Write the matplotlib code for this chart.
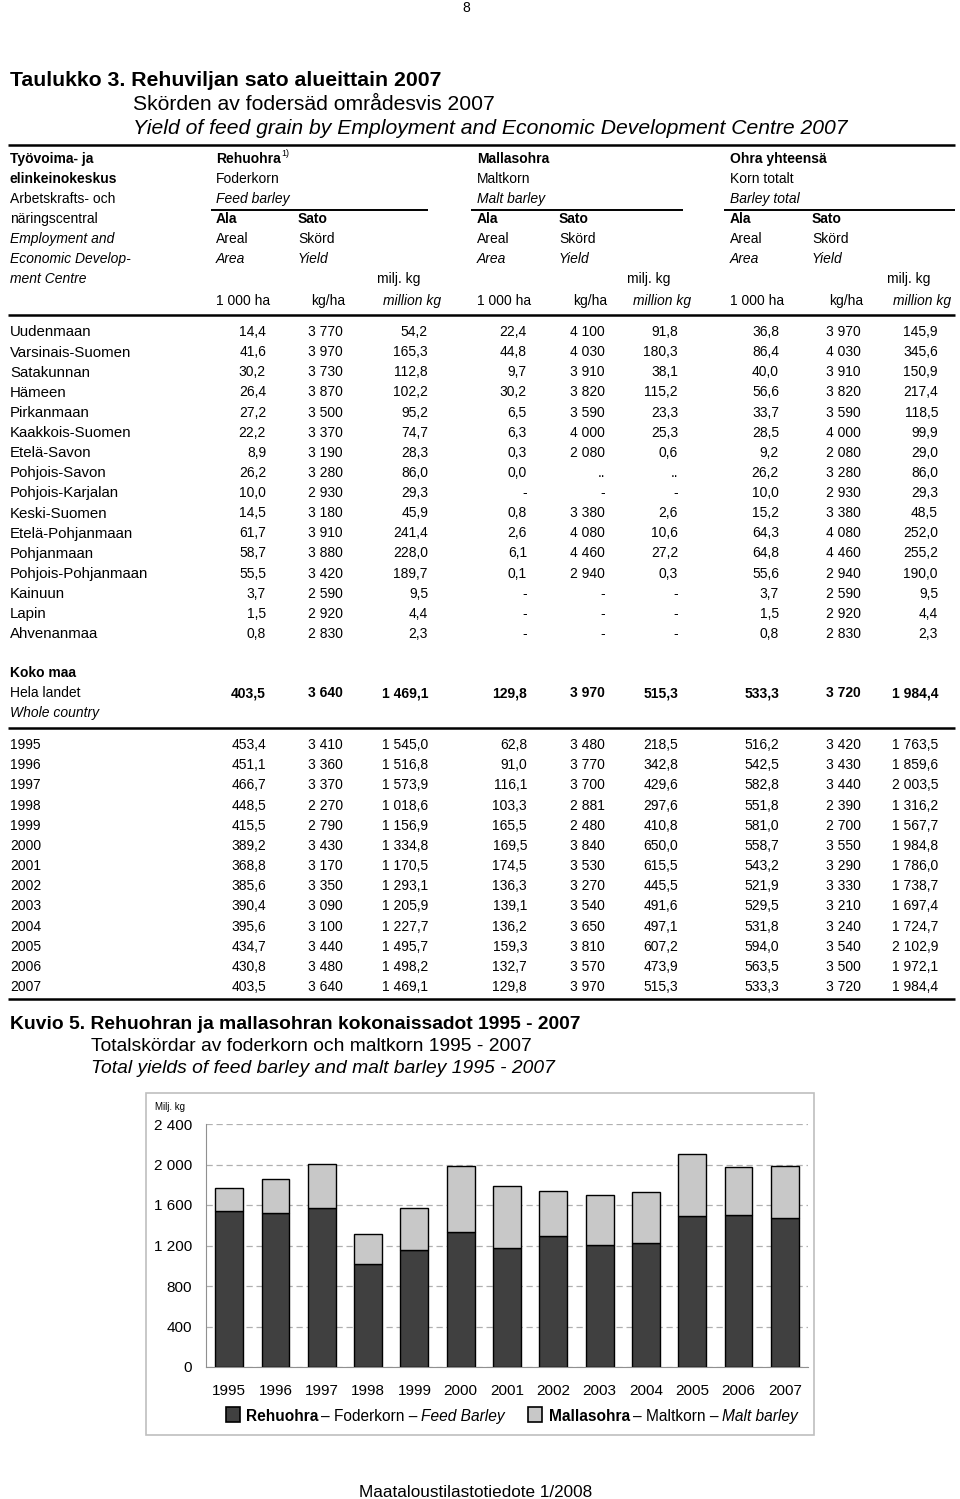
import math
import matplotlib
matplotlib.use("Agg")
import matplotlib.pyplot as plt
from matplotlib.patches import Rectangle
from matplotlib.ticker import FixedLocator, FuncFormatter

# ---------------- data ----------------
regions = ["Uudenmaan", "Varsinais-Suomen", "Satakunnan", "Hämeen", "Pirkanmaan",
           "Kaakkois-Suomen", "Etelä-Savon", "Pohjois-Savon", "Pohjois-Karjalan",
           "Keski-Suomen", "Etelä-Pohjanmaan", "Pohjanmaan", "Pohjois-Pohjanmaan",
           "Kainuun", "Lapin", "Ahvenanmaa"]
NA = float("nan")   # ".."  ;  None = "-"
feed_area = [14.4, 41.6, 30.2, 26.4, 27.2, 22.2, 8.9, 26.2, 10.0, 14.5, 61.7, 58.7, 55.5, 3.7, 1.5, 0.8]
feed_yield = [3770, 3970, 3730, 3870, 3500, 3370, 3190, 3280, 2930, 3180, 3910, 3880, 3420, 2590, 2920, 2830]
feed_mkg = [54.2, 165.3, 112.8, 102.2, 95.2, 74.7, 28.3, 86.0, 29.3, 45.9, 241.4, 228.0, 189.7, 9.5, 4.4, 2.3]
malt_area = [22.4, 44.8, 9.7, 30.2, 6.5, 6.3, 0.3, 0.0, None, 0.8, 2.6, 6.1, 0.1, None, None, None]
malt_yield = [4100, 4030, 3910, 3820, 3590, 4000, 2080, NA, None, 3380, 4080, 4460, 2940, None, None, None]
malt_mkg = [91.8, 180.3, 38.1, 115.2, 23.3, 25.3, 0.6, NA, None, 2.6, 10.6, 27.2, 0.3, None, None, None]
tot_area = [36.8, 86.4, 40.0, 56.6, 33.7, 28.5, 9.2, 26.2, 10.0, 15.2, 64.3, 64.8, 55.6, 3.7, 1.5, 0.8]
tot_yield = [3970, 4030, 3910, 3820, 3590, 4000, 2080, 3280, 2930, 3380, 4080, 4460, 2940, 2590, 2920, 2830]
tot_mkg = [145.9, 345.6, 150.9, 217.4, 118.5, 99.9, 29.0, 86.0, 29.3, 48.5, 252.0, 255.2, 190.0, 9.5, 4.4, 2.3]

whole_country = [403.5, 3640, 1469.1, 129.8, 3970, 515.3, 533.3, 3720, 1984.4]

years = [1995, 1996, 1997, 1998, 1999, 2000, 2001, 2002, 2003, 2004, 2005, 2006, 2007]
y_feed_area = [453.4, 451.1, 466.7, 448.5, 415.5, 389.2, 368.8, 385.6, 390.4, 395.6, 434.7, 430.8, 403.5]
y_feed_yield = [3410, 3360, 3370, 2270, 2790, 3430, 3170, 3350, 3090, 3100, 3440, 3480, 3640]
y_feed_mkg = [1545.0, 1516.8, 1573.9, 1018.6, 1156.9, 1334.8, 1170.5, 1293.1, 1205.9, 1227.7, 1495.7, 1498.2, 1469.1]
y_malt_area = [62.8, 91.0, 116.1, 103.3, 165.5, 169.5, 174.5, 136.3, 139.1, 136.2, 159.3, 132.7, 129.8]
y_malt_yield = [3480, 3770, 3700, 2881, 2480, 3840, 3530, 3270, 3540, 3650, 3810, 3570, 3970]
y_malt_mkg = [218.5, 342.8, 429.6, 297.6, 410.8, 650.0, 615.5, 445.5, 491.6, 497.1, 607.2, 473.9, 515.3]
y_tot_area = [516.2, 542.5, 582.8, 551.8, 581.0, 558.7, 543.2, 521.9, 529.5, 531.8, 594.0, 563.5, 533.3]
y_tot_yield = [3420, 3430, 3440, 2390, 2700, 3550, 3290, 3330, 3210, 3240, 3540, 3500, 3720]
y_tot_mkg = [1763.5, 1859.6, 2003.5, 1316.2, 1567.7, 1984.8, 1786.0, 1738.7, 1697.4, 1724.7, 2102.9, 1972.1, 1984.4]

y_ticks = [0, 400, 800, 1200, 1600, 2000, 2400]

# ---------------- helpers ----------------
SANS = ["Liberation Sans", "DejaVu Sans"]


def fmt(v, dec):
    if v is None:
        return "-"
    if isinstance(v, float) and math.isnan(v):
        return ".."
    s = f"{v:,.{dec}f}"
    return s.replace(",", " ").replace(".", ",")


W, H = 960, 1499
fig = plt.figure(figsize=(W / 100, H / 100), dpi=100)
page = fig.add_axes([0, 0, 1, 1])
page.set_xlim(0, W)
page.set_ylim(H, 0)
page.axis("off")
renderer = fig.canvas.get_renderer()


def T(x, y, s, size=10, weight="normal", style="normal", ha="left", family=SANS):
    # y is the visual centre of capital letters; draw on baseline
    off = 0.36 * size * 100 / 72
    return page.text(x, y + off, s, fontsize=size, fontweight=weight, fontstyle=style,
                     ha=ha, va="baseline", family=family, color="black")


def chain(x, y, pieces, size, gap=3):
    for s, weight, style in pieces:
        t = T(x, y, s, size=size, weight=weight, style=style)
        bb = t.get_window_extent(renderer=renderer)
        x = bb.x1 + gap


def hline(y, x0=8, x1=955, lw=1.8):
    page.plot([x0, x1], [y, y], color="black", lw=lw, solid_capstyle="butt")


# page number
T(466, 7, "8", size=10, ha="center")

# titles
T(10, 78, "Taulukko 3. Rehuviljan sato alueittain 2007", size=15.3, weight="bold")
T(133, 102, "Skörden av fodersäd områdesvis 2007", size=15.2)
T(133, 126, "Yield of feed grain by Employment and Economic Development Centre 2007", size=15.2,
  style="italic")

hline(145)

# header
hy = [158, 178, 198, 218, 238, 258, 278, 300]
T(10, hy[0], "Työvoima- ja", weight="bold")
T(10, hy[1], "elinkeinokeskus", weight="bold")
T(10, hy[2], "Arbetskrafts- och")
T(10, hy[3], "näringscentral")
T(10, hy[4], "Employment and", style="italic")
T(10, hy[5], "Economic Develop-", style="italic")
T(10, hy[6], "ment Centre", style="italic")

groups = [("Rehuohra", "Foderkorn", "Feed barley"),
          ("Mallasohra", "Maltkorn", "Malt barley"),
          ("Ohra yhteensä", "Korn totalt", "Barley total")]
gx = [216, 477, 730]          # group left x
area_r = [266, 527, 779]      # right edges of numeric columns
yield_r = [343, 605, 861]
mkg_r = [428, 678, 938]
line_span = [(211, 428), (471, 683), (724, 955)]
for g in range(3):
    x = gx[g]
    T(x, hy[0], groups[g][0], weight="bold")
    T(x, hy[1], groups[g][1])
    T(x, hy[2], groups[g][2], style="italic")
    hline(210, line_span[g][0], line_span[g][1], lw=1.4)
    T(x, hy[3], "Ala", weight="bold")
    T(x + 82, hy[3], "Sato", weight="bold")
    T(x, hy[4], "Areal")
    T(x + 82, hy[4], "Skörd")
    T(x, hy[5], "Area", style="italic")
    T(x + 82, hy[5], "Yield", style="italic")
    T(mkg_r[g] - 8, hy[6], "milj. kg", ha="right")
    T(x, hy[7], "1 000 ha")
    T(yield_r[g] + 2, hy[7], "kg/ha", ha="right")
    T(mkg_r[g] + 13, hy[7], "million kg", ha="right", style="italic")
T(281, 153, "1)", size=6.5)

hline(315)

# region rows
cols = [(feed_area, 1), (feed_yield, 0), (feed_mkg, 1),
        (malt_area, 1), (malt_yield, 0), (malt_mkg, 1),
        (tot_area, 1), (tot_yield, 0), (tot_mkg, 1)]
rights = [area_r[0], yield_r[0], mkg_r[0], area_r[1], yield_r[1], mkg_r[1],
          area_r[2], yield_r[2], mkg_r[2]]
for i, name in enumerate(regions):
    y = 331 + i * 20.13
    T(10, y, name, size=10.8)
    for (arr, dec), xr in zip(cols, rights):
        T(xr, y, fmt(arr[i], dec), ha="right")

# whole country
T(10, 672, "Koko maa", weight="bold")
T(10, 692, "Hela landet")
T(10, 712, "Whole country", style="italic")
decs = [1, 0, 1, 1, 0, 1, 1, 0, 1]
for v, dec, xr in zip(whole_country, decs, rights):
    T(xr, 692, fmt(v, dec), ha="right", weight="bold")

hline(728)

# year rows
ycols = [(y_feed_area, 1), (y_feed_yield, 0), (y_feed_mkg, 1),
         (y_malt_area, 1), (y_malt_yield, 0), (y_malt_mkg, 1),
         (y_tot_area, 1), (y_tot_yield, 0), (y_tot_mkg, 1)]
for i, yr in enumerate(years):
    y = 744 + i * 20.17
    T(10, y, str(yr))
    for (arr, dec), xr in zip(ycols, rights):
        T(xr, y, fmt(arr[i], dec), ha="right")

hline(999)

# figure caption
T(10, 1022, "Kuvio 5. Rehuohran ja mallasohran kokonaissadot 1995 - 2007", size=13.9, weight="bold")
T(91, 1044, "Totalskördar av foderkorn och maltkorn 1995 - 2007", size=13.9)
T(91, 1066, "Total yields of feed barley and malt barley 1995 - 2007", size=13.9, style="italic")

# chart frame
page.add_patch(Rectangle((146, 1093), 668, 342, fill=False, edgecolor="#bfbfbf", lw=1.2))

# ---------------- bar chart ----------------
L, R, TOP, BOT = 206, 808, 1124, 1367
ax = fig.add_axes([L / W, (H - BOT) / H, (R - L) / W, (BOT - TOP) / H])
xpos = list(range(len(years)))
ax.bar(xpos, y_feed_mkg, width=0.6, color="#404040", edgecolor="black", lw=1.0, zorder=3)
ax.bar(xpos, y_malt_mkg, width=0.6, bottom=y_feed_mkg, color="#c8c8c8", edgecolor="black",
       lw=1.0, zorder=3)
ax.set_xlim(-0.5, len(years) - 0.5)
ax.set_ylim(0, 2400)
ax.yaxis.set_major_locator(FixedLocator(y_ticks))
ax.yaxis.set_major_formatter(FuncFormatter(lambda v, p: fmt(v, 0)))
ax.set_xticks(xpos)
ax.set_xticklabels([str(y) for y in years])
ax.grid(axis="y", color="#b0b0b0", linestyle=(0, (5, 3)), lw=0.9, zorder=0)
for s in ["top", "right"]:
    ax.spines[s].set_visible(False)
ax.spines["left"].set_color("#909090")
ax.spines["bottom"].set_color("#909090")
ax.tick_params(axis="both", length=0, labelsize=11)
ax.tick_params(axis="y", pad=10)
ax.tick_params(axis="x", pad=12)
for lab in ax.get_xticklabels() + ax.get_yticklabels():
    lab.set_family(SANS)
ax.patch.set_alpha(0)
T(155, 1107, "Milj. kg", size=7)

# legend (manual)
page.add_patch(Rectangle((226, 1407), 14, 15, facecolor="#404040", edgecolor="black", lw=1.2))
chain(246, 1415, [("Rehuohra", "bold", "normal"), ("– Foderkorn –", "normal", "normal"),
                  ("Feed Barley", "normal", "italic")], size=11.2)
page.add_patch(Rectangle((528, 1407), 14, 15, facecolor="#c8c8c8", edgecolor="black", lw=1.2))
chain(549, 1415, [("Mallasohra", "bold", "normal"), ("– Maltkorn –", "normal", "normal"),
                  ("Malt barley", "normal", "italic")], size=11.2)

# footer
T(476, 1491, "Maataloustilastotiedote 1/2008", size=12.3, ha="center")

fig.savefig("out.png", dpi=100)
